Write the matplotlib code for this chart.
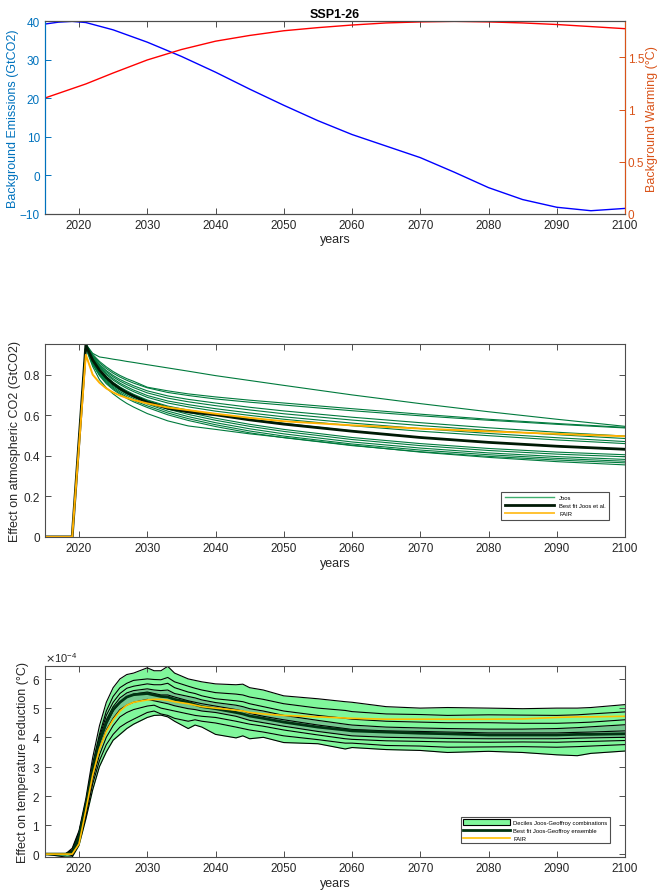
import numpy as np
import matplotlib
matplotlib.use("Agg")
import matplotlib.pyplot as plt
from matplotlib.patches import Patch
from matplotlib.lines import Line2D
from matplotlib.ticker import FormatStrFormatter

plt.rcParams['font.family'] = ['Liberation Sans', 'DejaVu Sans']
plt.rcParams['font.size'] = 8.5

# ---------------- panel 1: background scenario ----------------
years1 = [2015, 2017, 2019, 2021, 2025, 2030, 2035, 2040, 2045, 2050, 2055, 2060,
          2065, 2070, 2075, 2080, 2085, 2090, 2095, 2100]
emissions = [39.3, 39.8, 40.0, 39.7, 37.8, 34.6, 30.9, 26.8, 22.4, 18.2, 14.2, 10.6,
             7.6, 4.6, 0.8, -3.2, -6.3, -8.3, -9.2, -8.6]
warming = [1.11, 1.155, 1.2, 1.245, 1.35, 1.475, 1.575, 1.655, 1.71, 1.755, 1.785, 1.81,
           1.83, 1.84, 1.845, 1.84, 1.83, 1.815, 1.795, 1.775]

# ---------------- panel 2: atmospheric CO2 ----------------
years2 = [2015, 2019, 2021, 2022, 2023, 2024, 2025, 2026, 2027, 2028, 2030, 2033, 2036,
          2040, 2045, 2050, 2060, 2070, 2080, 2090, 2100]
joos_runs = [
    [0, 0, 0.95, 0.905, 0.887, 0.882, 0.876, 0.871, 0.865, 0.86, 0.849, 0.833, 0.817, 0.795, 0.771, 0.747, 0.70, 0.657, 0.617, 0.58, 0.545],
    [0, 0, 0.95, 0.90, 0.865, 0.838, 0.815, 0.796, 0.78, 0.767, 0.738, 0.72, 0.705, 0.69, 0.674, 0.66, 0.632, 0.605, 0.58, 0.559, 0.54],
    [0, 0, 0.95, 0.895, 0.858, 0.83, 0.807, 0.788, 0.772, 0.758, 0.735, 0.712, 0.697, 0.68, 0.664, 0.65, 0.622, 0.597, 0.575, 0.555, 0.537],
    [0, 0, 0.95, 0.89, 0.85, 0.82, 0.796, 0.776, 0.76, 0.745, 0.72, 0.695, 0.678, 0.66, 0.639, 0.621, 0.59, 0.563, 0.538, 0.516, 0.497],
    [0, 0, 0.95, 0.888, 0.846, 0.814, 0.789, 0.768, 0.751, 0.736, 0.71, 0.684, 0.666, 0.647, 0.626, 0.607, 0.576, 0.549, 0.525, 0.504, 0.485],
    [0, 0, 0.95, 0.885, 0.84, 0.806, 0.78, 0.758, 0.74, 0.724, 0.697, 0.67, 0.652, 0.632, 0.611, 0.592, 0.561, 0.534, 0.51, 0.489, 0.47],
    [0, 0, 0.95, 0.882, 0.835, 0.80, 0.773, 0.751, 0.732, 0.716, 0.688, 0.66, 0.641, 0.62, 0.599, 0.58, 0.548, 0.521, 0.499, 0.478, 0.46],
    [0, 0, 0.945, 0.875, 0.826, 0.79, 0.762, 0.739, 0.72, 0.703, 0.675, 0.645, 0.625, 0.603, 0.58, 0.56, 0.522, 0.491, 0.466, 0.446, 0.43],
    [0, 0, 0.94, 0.86, 0.81, 0.775, 0.75, 0.73, 0.713, 0.698, 0.672, 0.64, 0.614, 0.585, 0.555, 0.53, 0.49, 0.46, 0.436, 0.418, 0.405],
    [0, 0, 0.94, 0.857, 0.805, 0.77, 0.744, 0.723, 0.705, 0.69, 0.663, 0.63, 0.604, 0.575, 0.545, 0.52, 0.48, 0.45, 0.426, 0.408, 0.395],
    [0, 0, 0.94, 0.855, 0.802, 0.765, 0.738, 0.716, 0.698, 0.682, 0.655, 0.62, 0.593, 0.563, 0.533, 0.508, 0.468, 0.438, 0.414, 0.396, 0.382],
    [0, 0, 0.935, 0.852, 0.798, 0.76, 0.732, 0.709, 0.69, 0.673, 0.646, 0.611, 0.583, 0.553, 0.522, 0.497, 0.458, 0.428, 0.405, 0.387, 0.373],
    [0, 0, 0.935, 0.85, 0.795, 0.755, 0.726, 0.703, 0.683, 0.666, 0.638, 0.602, 0.574, 0.544, 0.513, 0.489, 0.45, 0.42, 0.397, 0.379, 0.365],
    [0, 0, 0.93, 0.84, 0.775, 0.735, 0.705, 0.68, 0.658, 0.64, 0.608, 0.572, 0.547, 0.53, 0.508, 0.49, 0.452, 0.418, 0.392, 0.371, 0.355],
]
joos_best = [0, 0, 0.945, 0.872, 0.822, 0.785, 0.755, 0.731, 0.711, 0.694, 0.664, 0.634, 0.616, 0.602, 0.577, 0.556, 0.521, 0.49, 0.466, 0.447, 0.432]
fair_co2 = [0, 0, 0.898, 0.80, 0.76, 0.732, 0.712, 0.697, 0.685, 0.675, 0.658, 0.638, 0.625, 0.607, 0.587, 0.57, 0.55, 0.534, 0.52, 0.508, 0.496]

# ---------------- panel 3: temperature effect (x1e-4 degC) ----------------
years3 = [2015, 2018, 2019, 2020, 2021, 2022, 2023, 2024, 2025, 2026, 2027, 2028, 2030, 2031, 2032,
          2033, 2034, 2036, 2037, 2038, 2040, 2043, 2044, 2045, 2047, 2050, 2055, 2059, 2060, 2065,
          2070, 2074, 2080, 2085, 2090, 2093, 2095, 2100]
dec_top = [0, 0, 0.2, 0.8, 1.9, 3.3, 4.4, 5.2, 5.7, 6.0, 6.15, 6.2, 6.38, 6.28, 6.28, 6.43, 6.2, 6.0, 5.95,
           5.9, 5.83, 5.8, 5.82, 5.7, 5.62, 5.42, 5.32, 5.22, 5.2, 5.05, 5.0, 5.02, 5.0, 4.98, 5.0, 5.0, 5.02, 5.12]
dec_2 = [0, 0, 0.15, 0.75, 1.8, 3.1, 4.1, 4.9, 5.4, 5.7, 5.85, 5.95, 6.0, 5.98, 5.97, 6.05, 5.9, 5.75, 5.68,
         5.62, 5.53, 5.48, 5.45, 5.38, 5.3, 5.15, 5.0, 4.92, 4.88, 4.8, 4.78, 4.75, 4.77, 4.76, 4.75, 4.77, 4.8, 4.87]
dec_3 = [0, 0, 0.1, 0.7, 1.75, 3.0, 4.0, 4.75, 5.2, 5.5, 5.68, 5.75, 5.83, 5.8, 5.8, 5.85, 5.7, 5.55, 5.5,
         5.42, 5.32, 5.25, 5.22, 5.15, 5.05, 4.9, 4.75, 4.65, 4.62, 4.55, 4.52, 4.5, 4.5, 4.48, 4.48, 4.5, 4.52, 4.6]
dec_4 = [0, 0, 0.1, 0.65, 1.7, 2.95, 3.9, 4.6, 5.05, 5.35, 5.52, 5.6, 5.66, 5.62, 5.6, 5.62, 5.5, 5.4, 5.35,
         5.28, 5.19, 5.1, 5.05, 4.98, 4.9, 4.75, 4.58, 4.45, 4.42, 4.35, 4.32, 4.3, 4.28, 4.28, 4.3, 4.33, 4.36, 4.43]
dec_5 = [0, 0, 0.05, 0.6, 1.6, 2.85, 3.8, 4.45, 4.9, 5.2, 5.38, 5.48, 5.55, 5.5, 5.45, 5.45, 5.38, 5.25, 5.2,
         5.15, 5.07, 4.95, 4.9, 4.82, 4.72, 4.6, 4.42, 4.3, 4.27, 4.22, 4.2, 4.18, 4.15, 4.15, 4.15, 4.17, 4.18, 4.22]
dec_6 = [0, 0, 0, 0.55, 1.5, 2.7, 3.6, 4.25, 4.65, 4.95, 5.1, 5.2, 5.3, 5.25, 5.2, 5.15, 5.08, 4.98, 4.95,
         4.9, 4.85, 4.72, 4.65, 4.58, 4.5, 4.38, 4.2, 4.08, 4.05, 4.0, 3.98, 3.96, 3.95, 3.95, 3.95, 3.97, 3.98, 4.0]
dec_7 = [0, 0, 0, 0.5, 1.4, 2.55, 3.4, 4.0, 4.4, 4.7, 4.85, 4.95, 5.07, 5.1, 5.0, 4.95, 4.9, 4.8, 4.75,
         4.72, 4.68, 4.55, 4.5, 4.45, 4.38, 4.25, 4.08, 3.95, 3.93, 3.88, 3.86, 3.84, 3.83, 3.84, 3.83, 3.85, 3.86, 3.89]
dec_8 = [0, 0, -0.05, 0.4, 1.3, 2.4, 3.2, 3.75, 4.1, 4.35, 4.5, 4.62, 4.85, 4.9, 4.8, 4.75, 4.65, 4.55, 4.6,
         4.55, 4.49, 4.35, 4.3, 4.25, 4.18, 4.05, 3.92, 3.8, 3.8, 3.72, 3.7, 3.66, 3.67, 3.68, 3.66, 3.68, 3.7, 3.75]
dec_bot = [0, -0.1, -0.1, 0.3, 1.2, 2.2, 3.0, 3.5, 3.9, 4.1, 4.3, 4.45, 4.68, 4.75, 4.76, 4.7, 4.55, 4.3, 4.42,
           4.35, 4.1, 3.98, 4.05, 3.95, 4.0, 3.82, 3.78, 3.6, 3.65, 3.58, 3.55, 3.48, 3.52, 3.48, 3.4, 3.37, 3.45, 3.53]
temp_best = [0, 0, 0.05, 0.6, 1.65, 2.9, 3.85, 4.5, 4.95, 5.2, 5.38, 5.46, 5.5, 5.45, 5.4, 5.38, 5.3, 5.2, 5.12,
             5.05, 4.98, 4.85, 4.8, 4.73, 4.65, 4.52, 4.35, 4.25, 4.22, 4.18, 4.14, 4.12, 4.08, 4.08, 4.08, 4.1, 4.1, 4.12]
temp_fair = [0, 0, 0, 0.35, 1.5, 2.7, 3.6, 4.2, 4.6, 4.9, 5.1, 5.2, 5.28, 5.3, 5.3, 5.27, 5.22, 5.15, 5.1,
             5.05, 5.0, 4.93, 4.9, 4.85, 4.8, 4.75, 4.7, 4.66, 4.65, 4.62, 4.62, 4.62, 4.62, 4.63, 4.68, 4.7, 4.7, 4.72]

edge = '#4d4d4d'
txt = '#262626'
mblue = '#0072BD'
morange = '#D95319'


def style_axes(ax, right=True):
    for s in ax.spines.values():
        s.set_color(edge)
        s.set_linewidth(0.8)
    ax.tick_params(direction='in', length=4, width=0.7, colors=edge, labelcolor=txt,
                   top=True, right=right, labelsize=8.5)
    ax.set_xlim(2015, 2100)
    ax.set_xticks(range(2020, 2101, 10))
    ax.set_xlabel('years', color=txt, fontsize=9, labelpad=2)


fig = plt.figure(figsize=(6.6, 8.95), dpi=100)

# panel 1
ax1 = fig.add_axes([0.068, 0.760, 0.879, 0.215])
style_axes(ax1, right=False)
ax1.plot(years1, emissions, color='blue', lw=1)
ax1.set_ylim(-10, 40)
ax1.set_yticks(range(-10, 41, 10))
ax1.tick_params(axis='y', colors=mblue, labelcolor=mblue)
ax1.spines['left'].set_color(mblue)
ax1.set_ylabel('Background Emissions (GtCO2)', color=mblue, fontsize=9, labelpad=1)
ax1.set_title('SSP1-26', fontweight='bold', fontsize=9, color='black', pad=3)

ax1r = ax1.twinx()
ax1r.plot(years1, warming, color='red', lw=1)
ax1r.set_ylim(0, max(warming))
ax1r.set_yticks([0, 0.5, 1, 1.5])
ax1r.yaxis.set_major_formatter(FormatStrFormatter('%g'))
ax1r.tick_params(axis='y', direction='in', length=4, width=0.7, colors=morange,
                 labelcolor=morange, labelsize=8.5, pad=2)
for s in ax1r.spines.values():
    s.set_color(edge)
    s.set_linewidth(0.8)
ax1r.spines['right'].set_color(morange)
ax1r.spines['left'].set_color(mblue)
ax1r.set_ylabel('Background Warming (°C)', color=morange, fontsize=9, labelpad=1)

# panel 2
ax2 = fig.add_axes([0.068, 0.399, 0.879, 0.216])
style_axes(ax2)
for run in joos_runs:
    ax2.plot(years2, run, color='#007A3D', lw=0.8)
ax2.plot(years2, joos_best, color='#001a05', lw=2.0)
ax2.plot(years2, fair_co2, color='#FFB000', lw=1.4)
ax2.set_ylim(0, 0.953)
ax2.set_yticks([0, 0.2, 0.4, 0.6, 0.8])
ax2.yaxis.set_major_formatter(FormatStrFormatter('%g'))
ax2.set_ylabel('Effect on atmospheric CO2 (GtCO2)', color=txt, fontsize=9, labelpad=2)
h2 = [Line2D([], [], color='#3fae6e', lw=1.0),
      Line2D([], [], color='#001a05', lw=2.0),
      Line2D([], [], color='#FFC233', lw=1.4)]
leg2 = ax2.legend(h2, ['Joos', 'Best fit Joos et al.', 'FAIR'], loc='lower right',
                  bbox_to_anchor=(0.978, 0.073), fontsize=4.2, handlelength=8.5,
                  frameon=True, fancybox=False, borderpad=0.6, labelspacing=0.5,
                  handletextpad=0.8)
leg2.get_frame().set_edgecolor('#222222')
leg2.get_frame().set_linewidth(0.8)

# panel 3
ax3 = fig.add_axes([0.068, 0.041, 0.879, 0.214])
style_axes(ax3)
scale = 1e-4
deciles = [dec_top, dec_2, dec_3, dec_4, dec_5, dec_6, dec_7, dec_8, dec_bot]
light = '#80F79B'
dark = '#74C98F'
for i in range(len(deciles) - 1):
    upper = np.array(deciles[i]) * scale
    lower = np.array(deciles[i + 1]) * scale
    ax3.fill_between(years3, lower, upper, color=dark if i in (3, 4) else light, lw=0)
for d in deciles:
    ax3.plot(years3, np.array(d) * scale, color='black', lw=0.8)
ax3.plot(years3, np.array(temp_best) * scale, color='#003312', lw=2.0)
ax3.plot(years3, np.array(temp_fair) * scale, color='#FFC000', lw=1.2)
ax3.set_ylim(-0.11e-4, 6.45e-4)
ax3.set_yticks(np.arange(0, 7) * scale)
ax3.ticklabel_format(axis='y', style='sci', scilimits=(-4, -4), useMathText=True)
ax3.yaxis.get_offset_text().set_fontsize(8)
ax3.yaxis.get_offset_text().set_color(txt)
ax3.set_ylabel('Effect on temperature reduction (°C)', color=txt, fontsize=9, labelpad=2)
h3 = [Patch(facecolor=light, edgecolor='black', lw=0.8),
      Line2D([], [], color='#003312', lw=2.0),
      Line2D([], [], color='#FFC000', lw=1.2)]
leg3 = ax3.legend(h3, ['Deciles Joos-Geoffroy combinations', 'Best fit Joos-Geoffroy ensemble', 'FAIR'],
                  loc='lower right', bbox_to_anchor=(0.979, 0.058), fontsize=4.2, handlelength=8.0,
                  handleheight=1.0, frameon=True, fancybox=False, borderpad=0.4, labelspacing=0.4,
                  handletextpad=0.6)
leg3.get_frame().set_edgecolor('#222222')
leg3.get_frame().set_linewidth(0.8)

fig.savefig('out.png', dpi=100)
